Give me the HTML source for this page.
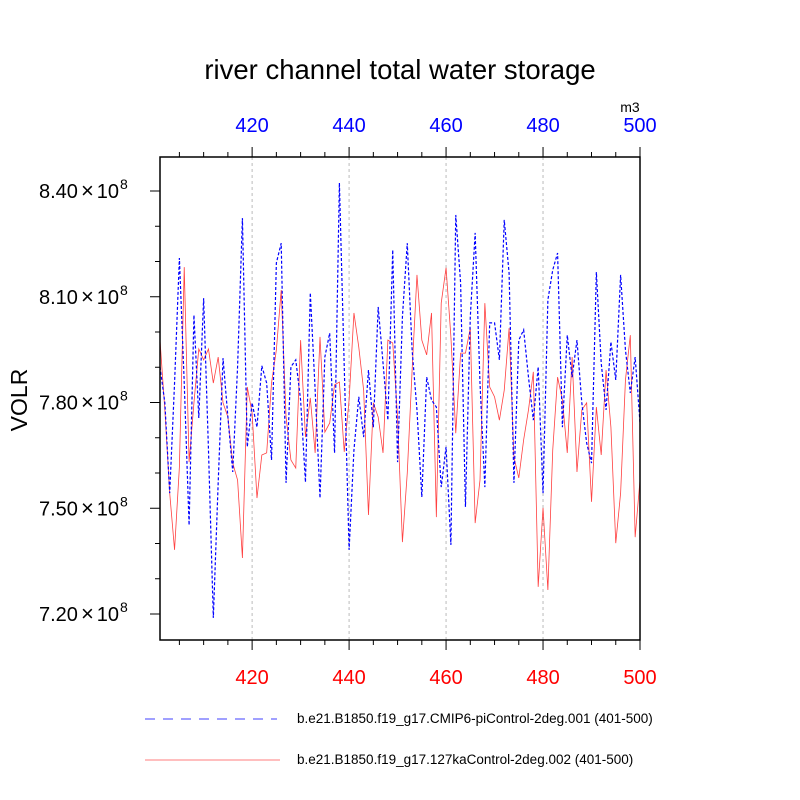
<!DOCTYPE html>
<html><head><meta charset="utf-8"><style>
html,body{margin:0;padding:0;background:#fff;}
svg{display:block;font-family:"Liberation Sans",sans-serif;}
</style></head><body>
<svg id="c" width="800" height="800" viewBox="0 0 800 800">
<text x="400" y="79" text-anchor="middle" font-size="27.5">river channel total water storage</text>
<text x="630" y="112" text-anchor="middle" font-size="14">m3</text>
<text transform="translate(27,400) rotate(-90)" text-anchor="middle" font-size="23">VOLR</text>
<g id="grid"></g>
<g id="series"></g>
<rect x="160" y="157" width="480" height="483" fill="none" stroke="#000" stroke-width="1.5"/>
<g id="axes"></g>
<g>
<line x1="145" y1="719" x2="277" y2="719" stroke="#4040ff" stroke-width="1" stroke-dasharray="10,8"/>
<text x="297" y="723" font-size="13.5">b.e21.B1850.f19_g17.CMIP6-piControl-2deg.001 (401-500)</text>
<line x1="145" y1="760" x2="280" y2="760" stroke="#ff5050" stroke-width="0.8"/>
<text x="297" y="764" font-size="13.5">b.e21.B1850.f19_g17.127kaControl-2deg.002 (401-500)</text>
</g>
</svg>
<script>
const years = Array.from({length:100},(_,i)=>401+i);
const blueValues = [7.901,7.799,7.543,7.855,8.210,7.855,7.452,8.048,7.756,8.096,7.665,7.189,7.572,7.926,7.759,7.603,7.901,8.323,7.674,7.799,7.730,7.904,7.855,7.637,8.196,8.252,7.572,7.901,7.921,7.807,7.574,8.111,7.835,7.529,7.929,7.997,7.657,8.423,7.901,7.382,7.665,7.816,7.702,7.892,7.730,8.071,7.912,7.750,8.233,7.631,8.043,8.252,7.949,7.779,7.532,7.872,7.807,7.787,7.560,7.674,7.396,8.332,8.139,7.504,8.043,8.281,7.855,7.560,8.026,8.026,7.921,8.318,8.167,7.572,7.977,8.006,7.872,7.750,7.901,7.543,8.091,8.176,8.224,7.730,7.991,7.872,7.977,7.799,7.685,7.628,8.170,7.912,7.779,7.972,7.864,8.162,7.949,7.827,7.929,7.742];
const redValues = [7.977,7.779,7.543,7.382,7.617,8.184,7.631,7.799,7.952,7.921,7.952,7.855,7.929,7.799,7.759,7.628,7.580,7.359,7.844,7.770,7.529,7.651,7.657,7.855,7.949,8.119,7.759,7.637,7.614,7.977,7.702,7.813,7.657,7.986,7.716,7.742,7.850,7.858,7.660,7.807,8.054,7.957,7.835,7.481,7.799,7.759,7.657,7.977,7.969,7.759,7.404,7.600,7.892,8.162,7.977,7.935,8.054,7.475,8.082,8.182,7.986,7.713,7.940,7.940,8.011,7.458,7.580,8.082,7.844,7.816,7.750,7.835,8.011,7.645,7.586,7.694,7.779,7.887,7.277,7.501,7.268,7.665,7.872,7.807,7.657,7.929,7.603,7.779,7.799,7.518,7.787,7.651,7.892,7.730,7.401,7.543,7.864,7.991,7.418,7.580];
const xTickLabels = [420,440,460,480,500];
const yTickLabels = ["7.20","7.50","7.80","8.10","8.40"];

const NS="http://www.w3.org/2000/svg";
const X0=160,X1=640,Y0=640,Y1=157;
const xMin=401,xMax=500;
const yMin=7.2-26/352.5, yMax=8.4+34/352.5;
const sx=v=>X0+(v-xMin)/(xMax-xMin)*(X1-X0);
const sy=v=>Y0-(v-yMin)/(yMax-yMin)*(Y0-Y1);
function mk(tag,attrs,parent){const e=document.createElementNS(NS,tag);for(const k in attrs)e.setAttribute(k,attrs[k]);parent.appendChild(e);return e;}
const grid=document.getElementById('grid'),axes=document.getElementById('axes'),series=document.getElementById('series');

xTickLabels.forEach(t=>{
  const x=sx(t);
  if(t<500){const g=mk('line',{x1:x,y1:Y1,x2:x,y2:Y0,stroke:'#bbb','stroke-width':1,'stroke-dasharray':'3,3'},grid);
  
  }
  const tb=mk('text',{x:x,y:684,'text-anchor':'middle','font-size':20,fill:'#ff0000'},axes);tb.textContent=t;
  
  
  const tt=mk('text',{x:x,y:132,'text-anchor':'middle','font-size':20,fill:'#0000ff'},axes);tt.textContent=t;
  
  
});
for(let yr=405;yr<=500;yr+=5){
  const x=sx(yr),major=yr%20===0,len=major?10:5;
  const a=mk('line',{x1:x,y1:Y1,x2:x,y2:Y1-len,stroke:'#000','stroke-width':1},axes);
  
  
  const b=mk('line',{x1:x,y1:Y0,x2:x,y2:Y0+len,stroke:'#000','stroke-width':1},axes);
  
  
}
for(let k=0;k<=13;k++){
  const v=7.2+k*0.1;const y=sy(v);if(y<Y1)continue;
  const major=k%3===0;
  const t=mk('line',{x1:X0,y1:y,x2:X0-(major?10:5),y2:y,stroke:'#000','stroke-width':1},axes);
  
  
}
yTickLabels.forEach(l=>{
  const y=sy(parseFloat(l));
  const t=mk('text',{x:39,y:y+7,'font-size':20},axes);
  t.innerHTML=l+'<tspan dx="3" font-size="22">×</tspan><tspan dx="3">10</tspan><tspan dx="1" dy="-9" font-size="14">8</tspan>';
  
  
});
function path(vals){return vals.map((v,i)=>(i?'L':'M')+sx(years[i]).toFixed(2)+','+sy(v).toFixed(2)).join('');}
const r=mk('path',{d:path(redValues),fill:'none',stroke:'#ff4040','stroke-width':0.8},series);


const b=mk('path',{d:path(blueValues),fill:'none',stroke:'#0000ff','stroke-width':1.2,'stroke-dasharray':'3,2'},series);


</script>
</body></html>
